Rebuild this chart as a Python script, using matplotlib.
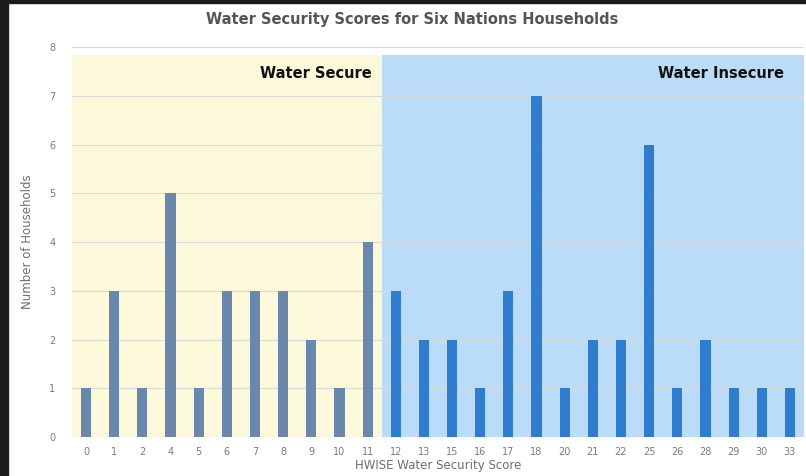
import numpy as np
import matplotlib.pyplot as plt
from matplotlib.patches import Rectangle

scores = ['0', '1', '2', '4', '5', '6', '7', '8', '9', '10', '11',
          '12', '13', '15', '16', '17', '18', '20', '21', '22', '25',
          '26', '28', '29', '30', '33']
households = [1, 3, 1, 5, 1, 3, 3, 3, 2, 1, 4,
              3, 2, 2, 1, 3, 7, 1, 2, 2, 6,
              1, 2, 1, 1, 1]
secure_cutoff = 11  # scores up to 11 count as water secure

fig = plt.figure(figsize=(8.06, 4.76), dpi=100)
ax = fig.add_axes([0.0893, 0.082, 0.9082, 0.819])

x = np.arange(len(scores))
n_secure = scores.index(str(secure_cutoff)) + 1

# shaded zones
ax.add_patch(Rectangle((-0.5, 0), n_secure, 7.83, color='#fbf9da', zorder=0, lw=0))
ax.add_patch(Rectangle((n_secure - 0.5, 0), len(scores) - n_secure, 7.83,
                       color='#badcf8', zorder=0, lw=0))

colors = ['#6a88ad'] * n_secure + ['#2e7dd1'] * (len(scores) - n_secure)
ax.bar(x, households, width=0.36, color=colors, zorder=3)

ax.set_xlim(-0.5, len(scores) - 0.5)
ax.set_ylim(0, 8)
ax.set_yticks(range(9))
ax.set_xticks(x)
ax.set_xticklabels(scores)
ax.grid(axis='y', color='#dadada', lw=0.8, zorder=1)
ax.set_axisbelow(True)
for s in ax.spines.values():
    s.set_visible(False)
ax.tick_params(length=0, labelsize=7, labelcolor='#7a7a7a', pad=7)
ax.tick_params(axis='y', pad=12)

ax.text(n_secure - 0.86, 7.45, 'Water Secure', ha='right', va='center',
        fontsize=10.5, fontweight='bold', color='#111111')
ax.text(len(scores) - 1.2, 7.45, 'Water Insecure', ha='right', va='center',
        fontsize=10.5, fontweight='bold', color='#111111')

fig.text(0.512, 0.958, 'Water Security Scores for Six Nations Households',
         ha='center', va='center', fontsize=10.5, fontweight='bold', color='#555555')
ax.set_ylabel('Number of Households', fontsize=8.5, color='#6e6e6e', labelpad=11)
ax.set_xlabel('HWISE Water Security Score', fontsize=8.5, color='#6e6e6e', labelpad=2)

# dark frame along the left and top edges
fig.patches.append(Rectangle((0, 0), 8 / 806, 1, transform=fig.transFigure,
                             color='#1c1c1c', zorder=10))
fig.patches.append(Rectangle((0, 1 - 3 / 476), 1, 3 / 476, transform=fig.transFigure,
                             color='#1c1c1c', zorder=10))

fig.savefig('out.png', dpi=100)
